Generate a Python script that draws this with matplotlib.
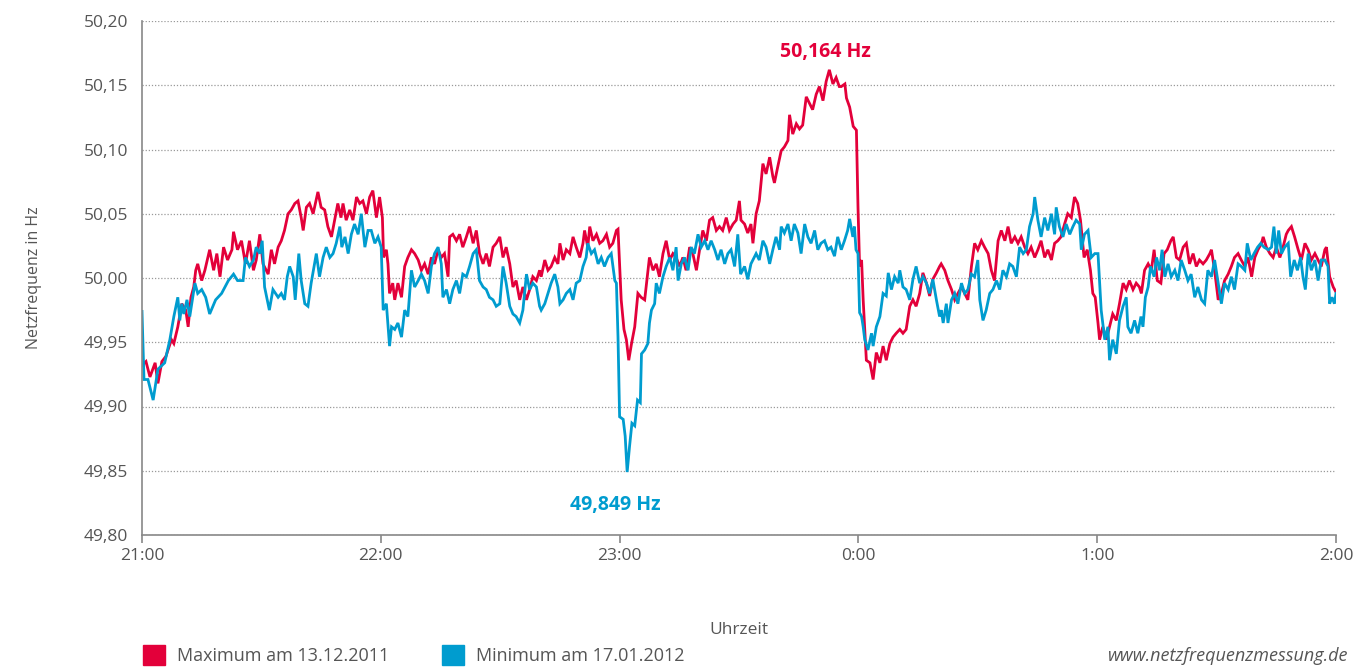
import matplotlib
matplotlib.use("Agg")
import matplotlib.pyplot as plt
from matplotlib.patches import Rectangle
from matplotlib.ticker import FuncFormatter

# minutes after 21:00 and deviation from 50 Hz in mHz
t_max = [0, 1, 2, 3.3, 4, 5, 6, 7.4, 8, 9, 10, 11, 11.6, 12.3, 13, 13.5, 14, 15, 15.8, 17, 18, 18.8, 19.6, 20.5, 21.5, 22.6, 23, 24, 25,
         26, 27, 28, 28.7, 29.6, 30.4, 31.7, 32.5, 33.3, 34.2, 35, 35.8, 36.7, 37.5, 38.4, 39.2, 40, 40.5, 41.3, 42.1, 43, 44.2, 45, 45.9, 46.7, 47.6, 48.4, 49.2, 50,
         50.5, 51.3, 52.2, 53, 53.9, 54.7, 55.5, 56.4, 57.2, 58, 58.9, 59.7, 60.4, 60.7, 61.4, 61.8, 62.2, 63, 63.5, 64.3, 65.2, 66, 66.8, 67.7, 68.5, 69.4, 70.2, 71, 71.9, 72.7, 73.5, 74.4, 75.2,
         76, 76.9, 77.3, 78.1, 79, 79.8, 80.6, 81.5, 82.3, 83.2, 84, 84.8, 85.7, 86.5, 87.3, 88.2, 89, 89.9, 90.7, 91.5, 92.4, 93.2, 94, 94.9, 95.7, 96.6, 97.4, 98.2, 99.1, 99.9,
         100.3, 101.2, 102, 102.8, 103.7, 104.5, 105, 105.8, 106.6, 107.5, 108.3, 109.1, 110, 110.8, 111.2, 112, 112.5, 113.3, 114.2, 115, 115.8, 116.7, 117.5, 118.3, 119.2, 119.6,
         120.4, 121.1, 121.7, 122.3, 123, 123.8, 124.6,
         125.4, 126.3, 127.5, 128.4, 129.2, 130, 130.9, 131.7, 132.6, 133.4, 134.2, 135.1, 135.9, 136.7, 137.6, 138.4, 139.3, 140.1, 140.9, 141.8, 142.6, 143.4, 144.3, 145.1, 145.9, 146.8, 147.6, 148.5, 149.3, 150.1,
         150.5, 151.4, 152.2, 153, 153.5, 154.3, 155.1, 156, 156.8, 157.7, 158.5, 158.9, 159.7, 160.6, 161.4, 162.3, 162.7, 163.5, 164.4, 165.2, 166, 166.9, 167.7, 168.5, 169.4, 170.2, 171.1, 171.9, 172.7, 173.6, 174.4, 175.2,
         175.7, 176.6, 177, 177.8, 178.7, 179.5, 179.9, 180.3, 180.8, 181.2, 182, 182.9, 183.7, 184.5, 185.4, 186.2, 187, 187.9, 188.7, 189.5, 190.4, 191.2, 192, 192.9, 193.7, 194.5, 195.4, 196.2, 197.1, 197.9, 198.7, 199.6, 200.4,
         200.8, 201.7, 202.5, 203.4, 204.2, 205, 205.9, 206.7, 207.5, 208.4, 209.2, 210, 210.9, 211.7, 212.6, 213.4, 214.2, 215.1, 215.9, 216.8, 217.6, 218.4, 219.3, 220.1, 220.9, 221.8, 222.6, 223.4, 224.3, 225.1, 225.9,
         226.8, 227.6, 228.5, 229.3, 230.1, 230.9, 231.8, 232.6, 233.5, 234.3, 235.1, 235.8, 236.7, 237.5, 238.3, 238.9, 239.5, 240.2, 240.6, 241.4, 242.3, 243.1, 243.9, 244.8, 245.6, 246.5, 247.3, 248.1, 249, 249.8, 250.6,
         251.1, 251.9, 252.8, 253.6, 254.3, 255.1, 256, 256.8, 257.6, 258.5, 259.1, 259.9, 260.7, 261.6, 262.4, 263.2, 264.1, 264.9, 265.7, 266.6, 267.4, 268.3, 268.7, 269.5, 270.4, 271.2, 272, 272.9, 273.7, 274.5, 275.4, 276.2,
         277.1, 277.9, 278.8, 279.6, 280.4, 281.3, 281.7, 282.5, 283.4, 284.2, 285, 285.9, 286.7, 287.5, 288, 288.8, 289.6, 290.5, 291.3, 292.2, 293, 293.8, 294.7, 295.5, 296.3, 297.2, 297.6, 298.4, 299.3, 300]
f_max = [-68, -65, -77, -66, -82, -65, -61, -48, -51, -38, -20, -25, -38, -15, -7, 6, 11, -2, 6, 22, 6, 19, 1, 24, 14, 22, 36, 22, 29,
         11, 29, 6, 14, 34, 11, 3, 22, 11, 24, 29, 37, 50, 53, 58, 60, 47, 37, 55, 58, 50, 67, 55, 53, 40, 32, 45, 58, 47,
         58, 45, 53, 45, 63, 58, 60, 50, 63, 68, 47, 63, 47, 16, 22, 11, -12, -4, -17, -4, -15, 9, 16, 22, 19, 14, 6, 11, 3, 16, 11, 22, 16,
         19, 1, 32, 34, 29, 34, 24, 32, 40, 27, 37, 19, 11, 19, 9, 24, 27, 32, 16, 24, 11, -7, -2, -17, -7, -17, -9, 1, -2, 6,
         1, 14, 6, 9, 16, 11, 27, 14, 22, 19, 32, 24, 16, 27, 37, 24, 40, 29, 34, 27, 29, 34, 24, 27, 37, 38,
         -17, -40, -48, -64, -51, -38, -12,
         -15, -17, 16, 6, 11, 1, 19, 29, 14, 19, 16, 9, 16, 6, 24, 19, 6, 22, 37, 29, 45, 47, 37, 40, 37, 47, 37, 42, 45, 60,
         45, 42, 35, 42, 27, 50, 60, 89, 81, 94, 79, 74, 86, 99, 102, 107, 127, 112, 120, 116, 119, 141, 136, 131, 143, 149, 138, 153, 162, 151, 156, 149,
         149, 151, 140, 133, 118, 115, 55, 9, 14, -17, -64, -66, -79, -58, -66, -53, -64, -51, -46, -43, -40, -43, -40, -22, -17, -22, -12, 4, -4, -14, -1, 4, 9,
         11, 6, -2, -9, -17, -12, -7, -12, -17, 9, 27, 22, 29, 24, 19, 6, -2, 29, 37, 29, 40, 27, 32, 27, 32, 24, 19, 24, 16, 22, 29,
         16, 22, 14, 27, 29, 32, 42, 50, 47, 63, 58, 45, 16, 22, 6, -12, -15, -35, -48, -38, -48, -38, -28, -33, -20, -4, -9, -2, -9, -4, -7,
         -12, 6, 11, 6, 22, -2, -4, 19, 22, 29, 32, 16, 14, 24, 27, 11, 19, 9, 14, 11, 14, 19, 22, 6, -17, -12, -2, 3, 9, 16, 19, 14,
         9, 16, 1, 16, 22, 27, 32, 24, 19, 16, 24, 16, 24, 34, 37, 40, 32, 22, 14, 27, 22, 14, 19, 14, 9, 22, 24, 1, -7, -11]

t_min = [0, 0.5, 1.5, 2.8, 4, 5.7, 7, 8, 9, 9.5, 10, 10.5, 11.3, 12, 12.5, 13.3, 14, 15, 16, 17, 18.5, 20, 21.7, 23, 24,
         25.4, 26, 27, 28, 28.7, 29.6, 30.2, 30.8, 32, 32.9, 34.2, 35, 35.8, 36.5, 37.1, 38, 38.5, 39.4, 40, 40.9, 41.7, 42.5, 43.8, 44.6, 45.5, 46.3, 47.2, 48, 48.8, 49.7,
         50.2, 51, 51.8, 52.6, 53.4, 54.3, 55.1, 56, 56.8, 57.6, 58.5, 59.3, 60.1, 60.6, 61.4, 62.2, 62.7, 63.5, 64.3, 65.2, 66, 66.8, 67.7, 68.5, 69.4, 70.2, 71, 71.9, 72.7, 73.5, 74.4,
         75.2, 75.6, 76.5, 77.3, 78.1, 79, 79.8, 80.6, 81.5, 82.3, 83.2, 84, 84.8, 85.7, 86.5, 87.3, 88.2, 89, 89.9, 90.7, 91.5, 92.4, 93.2, 94, 94.9, 95.7, 96.6, 97.4, 98.2, 99.1, 99.9,
         100.3, 101.2, 102, 102.8, 103.7, 104.5, 105, 105.8, 106.6, 107.5, 108.3, 109.1, 110, 110.8, 111.6, 112, 112.9, 113.7, 114.6, 115.4, 116.2, 117.1, 117.9, 118.8, 119.2,
         119.6, 120, 120.9, 121.4, 121.9, 122.5, 123.1, 123.8, 124.5, 125.2, 125.5,
         126.3, 127.1, 127.5, 128, 128.8, 129.2, 130, 130.9, 131.7, 132.6, 133.4, 134.2, 134.7, 135.5, 136.3, 137.2, 138, 138.8, 139.7, 140.5, 141.4, 142.2, 143, 143.9, 144.7, 145.5, 146.4, 147.2, 148, 148.9, 149.7, 150.4,
         151.4, 152.2, 153, 154.3, 155.1, 156, 156.8, 157.7, 158.5, 159.3, 160.2, 160.6, 161.4, 162.3, 163.1, 163.9, 164.8, 165.6, 166.5, 167.3, 168.1, 169, 169.8, 170.6, 171.5, 172.3, 173.1, 174, 174.8, 175.7, 176.5, 177.3, 177.8, 178.6, 179, 179.4, 179.9,
         180.3, 180.8, 181.2, 181.6, 182.4, 183.3, 183.7, 184.5, 185.4, 186.2, 187, 187.5, 188.3, 189.1, 190, 190.4, 191.2, 192, 192.9, 193.7, 194.5, 195.4, 196.2, 197.1, 197.9, 198.7, 199.6, 200.4,
         200.8, 201.3, 202.1, 202.5, 203.4, 204.2, 205, 205.9, 206.7, 207.5, 208.4, 209.2, 210, 210.5, 211.3, 212.1, 213, 213.8, 214.7, 215.5, 216.3, 217.2, 218, 218.8, 219.7, 220.5, 221.4, 222.2, 223, 223.9, 224.3, 225.1, 225.9,
         226.8, 227.6, 228.5, 229.3, 229.7, 230.5, 231.4, 232.2, 233.1, 233.9, 234.7, 235.6, 236, 236.8, 237.7, 238.5, 239.4, 240.2, 241, 241.9, 242.7, 243.1, 243.9, 244.8, 245.6, 246.5, 247.3, 247.7, 248.5, 249.4, 250.2, 251,
         251.5, 252.1, 252.8, 253.4, 254.3, 254.9, 255.7, 256.3, 257, 257.8, 258.6, 259.5, 260.3, 261.1, 262, 262.8, 263.6, 264.5, 265.3, 266.2, 267, 267.8, 268.7, 269.5, 270.4, 271.2, 272, 272.9, 273.7, 274.5, 275.4, 276.2,
         277.1, 277.7, 278.6, 279.4, 280.3, 281.1, 281.9, 283, 283.8, 284.4, 285, 285.6, 286.3, 287.1, 288, 288.6, 289.5, 290.3, 291.1, 291.7, 292.3, 293, 293.8, 294.7, 295.5, 296.3, 297.2, 298, 298.4, 299, 299.6, 300]
f_min = [-26, -79, -79, -95, -71, -66, -48, -30, -15, -33, -20, -28, -17, -30, -20, -4, -12, -9, -15, -28, -17, -12, -2, 3, -2,
         -2, 16, 9, 14, 24, 19, 29, -7, -25, -9, -15, -12, -17, 1, 9, 1, -17, 19, -2, -20, -22, -4, 19, 1, 16, 24, 16, 19, 27, 40,
         24, 32, 19, 34, 42, 34, 50, 24, 37, 37, 27, 32, 24, -25, -20, -53, -38, -40, -35, -46, -25, -30, 6, -7, -2, 3, -2, -12, 9, 19, 24,
         11, -15, -9, -20, -9, -2, -12, 3, 1, 9, 19, 22, -2, -7, -9, -15, -17, -22, -20, 9, -4, -22, -28, -30, -35, -25, 3, -9, -4, -7, -22,
         -25, -20, -12, -4, 3, -7, -20, -17, -12, -9, -17, -4, -2, 9, 16, 27, 19, 22, 11, 16, 9, 16, 19, -2, -4,
         -46, -108, -110, -123, -151, -131, -113, -115, -95, -97, -59,
         -56, -51, -35, -25, -20, -4, -12, 1, 9, 16, 6, 24, -2, 11, 16, 6, 24, 19, 34, 24, 29, 22, 29, 22, 14, 22, 11, 19, 22, 9, 34, 3,
         9, -1, 11, 19, 14, 29, 24, 11, 22, 32, 22, 40, 35, 42, 29, 42, 35, 19, 42, 32, 27, 37, 22, 27, 29, 22, 24, 17, 32, 22, 29, 37, 46, 32, 40, 22, 19,
         -27, -30, -38, -48, -56, -43, -53, -38, -30, -12, -14, 4, -9, 1, -4, 6, -7, -9, -17, -1, 9, -4, 1, -4, -12, -1, -17, -30,
         -25, -35, -20, -35, -17, -12, -20, -4, -12, -9, 3, 1, 14, -17, -33, -25, -12, -9, -2, -9, 6, 1, 11, 9, 1, 24, 19, 22, 40, 50, 63, 45, 32,
         47, 37, 50, 34, 55, 40, 32, 42, 34, 40, 45, 42, 22, 34, 37, 16, 19, 19, -25, -48, -38, -64, -48, -59, -33, -22, -15, -38, -43, -33, -43, -30,
         -38, -15, -7, 9, 1, 16, 6, 22, 1, 11, 1, 6, -2, 14, 6, -2, 3, -15, -7, -17, -20, 6, 1, 14, -4, -20, -4, -9, 1, -9, 11, 9,
         6, 27, 14, 19, 24, 27, 24, 22, 24, 40, 19, 37, 19, 24, 27, 1, 14, 6, 16, 1, -9, 19, 6, 14, -2, 14, 14, 9, -20, -15, -20, -12]

hour_labels = ["21:00", "22:00", "23:00", "0:00", "1:00", "2:00"]
y_ticks = [49.80, 49.85, 49.90, 49.95, 50.00, 50.05, 50.10, 50.15, 50.20]

red = "#e3003a"
blue = "#009ccf"
grey = "#555555"

plt.rcParams['font.family'] = ['Open Sans', 'DejaVu Sans']

fig = plt.figure(figsize=(13.53, 6.68), dpi=100)
ax = fig.add_axes([142 / 1353, 1 - 535 / 668, (1336 - 142) / 1353, (535 - 21) / 668])

ax.plot([t / 60 for t in t_max], [50 + v / 1000 for v in f_max], color=red, lw=2.0, solid_joinstyle='miter')
ax.plot([t / 60 for t in t_min], [50 + v / 1000 for v in f_min], color=blue, lw=2.0, solid_joinstyle='miter')

ax.set_xlim(0, 5)
ax.set_ylim(49.80, 50.20)
ax.set_xticks(range(6))
ax.set_xticklabels(hour_labels)
ax.set_yticks(y_ticks)
ax.yaxis.set_major_formatter(FuncFormatter(lambda v, p: f"{v:.2f}".replace(".", ",")))
ax.grid(axis='y', color='#999999', linestyle=(0, (1, 1.5)), linewidth=0.9)
ax.set_axisbelow(True)
for s in ['top', 'right']:
    ax.spines[s].set_visible(False)
for s in ['left', 'bottom']:
    ax.spines[s].set_color('#888888')
    ax.spines[s].set_linewidth(1.2)
ax.tick_params(axis='x', length=6, width=1.2, color='#888888', labelcolor=grey, labelsize=12.5, pad=3)
ax.tick_params(axis='y', length=0, labelcolor=grey, labelsize=12.5, pad=10)
ax.set_xlabel("Uhrzeit", color=grey, fontsize=12.5, labelpad=42)
ax.set_ylabel("Netzfrequenz in Hz", color=grey, fontsize=11.5, labelpad=30)

ax.text(2.86, 50.176, "50,164 Hz", color=red, fontsize=14, fontweight='bold', ha='center', va='center')
ax.text(1.98, 49.8234, "49,849 Hz", color=blue, fontsize=14, fontweight='bold', ha='center', va='center')

# legend row
fig.patches.append(Rectangle((143 / 1353, 1 - 665 / 668), 22 / 1353, 20 / 668, transform=fig.transFigure, color=red))
fig.text(177 / 1353, 1 - 656 / 668, "Maximum am 13.12.2011", color=grey, fontsize=13, va='center')
fig.patches.append(Rectangle((442 / 1353, 1 - 665 / 668), 22 / 1353, 20 / 668, transform=fig.transFigure, color=blue))
fig.text(476 / 1353, 1 - 656 / 668, "Minimum am 17.01.2012", color=grey, fontsize=13, va='center')
fig.text(1348 / 1353, 1 - 656 / 668, "www.netzfrequenzmessung.de", color=grey, fontsize=13, style='italic', ha='right', va='center')

fig.savefig("out.png", dpi=100)
